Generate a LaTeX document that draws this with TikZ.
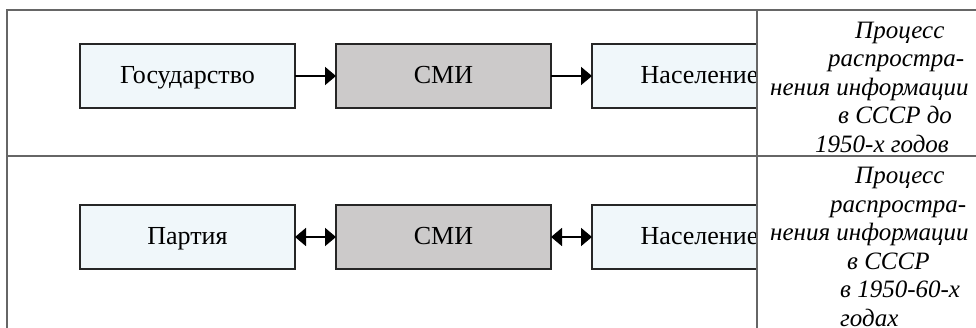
\documentclass[tikz,border=0pt]{standalone}
\usepackage{fontspec}
\setmainfont{Liberation Serif}
\usetikzlibrary{arrows.meta}
\definecolor{paleblue}{HTML}{F0F7FA}
\definecolor{smigrey}{HTML}{CCCACA}
\definecolor{rule}{HTML}{666666}

\begin{document}
\begin{tikzpicture}[x=1pt,y=-1pt,
	frame/.style={draw=rule,line width=1.4pt},
	actor/.style={draw=black!85,line width=1.6pt,fill=paleblue,inner sep=0pt,
		text height=18pt,text depth=2pt,
		minimum width=215pt,minimum height=64pt,font=\fontsize{26}{30}\selectfont},
	media/.style={actor,fill=smigrey},
	flow/.style={line width=1.8pt,shorten <=-0.8pt,shorten >=-0.8pt},
	note/.style={font=\fontsize{25}{28.6}\selectfont\itshape,align=left,inner sep=0pt,anchor=north west}]
		\useasboundingbox (0,0) rectangle (976,328);
		\def\rowa{76}
		\def\rowb{237}
		% the three actors, row by row
		\node[actor] (gov) at (187.5,\rowa) {Государство};
		\node[media] (smia) at (443.5,\rowa) {СМИ};
		\node[actor] (popa) at (699.5,\rowa) {Население};
		\node[actor] (party) at (187.5,\rowb) {Партия};
		\node[media] (smib) at (443.5,\rowb) {СМИ};
		\node[actor] (popb) at (699.5,\rowb) {Население};
		\draw[flow,-{Triangle[length=11pt,width=18pt]}] (gov) -- (smia);
		\draw[flow,-{Triangle[length=11pt,width=18pt]}] (smia) -- (popa);
		\draw[flow,{Triangle[length=11pt,width=18pt]}-{Triangle[length=11pt,width=18pt]}] (party) -- (smib);
		\draw[flow,{Triangle[length=11pt,width=18pt]}-{Triangle[length=11pt,width=18pt]}] (smib) -- (popb);
		% right column covers the end of the last box
		\fill[white] (757,10) rectangle (976,328);
		\draw[frame] (7,328) -- (7,10) -- (976,10);
		\draw[frame] (7,156) -- (976,156);
		\draw[frame] (757,10) -- (757,328);
		\node[note] (capa) at (770,21.5) {\hspace*{85pt}Процесс\\
			\hspace*{58pt}распростра-\\
			нения информации\\
			\hspace*{68pt}в СССР до\\
			\hspace*{45pt}1950-х годов};
		\node[note] (capb) at (770,167) {\hspace*{85pt}Процесс\\
			\hspace*{60pt}распростра-\\
			нения информации\\
			\hspace*{77pt}в СССР\\
			\hspace*{70pt}в 1950-60-х\\
			\hspace*{70pt}годах};
	\end{tikzpicture}
\end{document}
